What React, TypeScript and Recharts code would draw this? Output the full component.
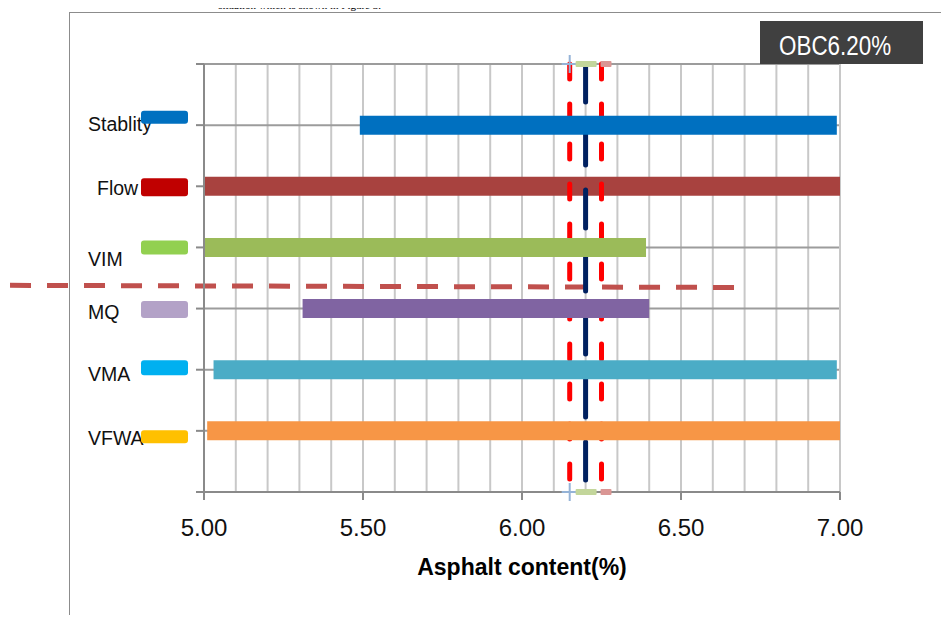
import React from 'react'
import { CartesianGrid, ComposedChart, Line, ReferenceLine, XAxis, YAxis } from 'recharts'

// Marshall properties, listed top to bottom
const properties = ['Stablity', 'Flow', 'VIM', 'MQ', 'VMA', 'VFWA']
const rowLevels = [6, 5, 4, 3, 2, 1]
// acceptable asphalt content range of each property (%)
const rangeStart = [5.49, 5.0, 5.0, 5.31, 5.03, 5.01]
const rangeEnd = [6.99, 7.0, 6.39, 6.4, 6.99, 7.0]

const barColors = ['#0070C0', '#A8423F', '#9BBB59', '#8064A2', '#4BACC6', '#F79646']
const keyColors = ['#0070C0', '#C00000', '#92D050', '#B3A2C7', '#00B0F0', '#FFC000']

const xTicks = [5, 5.5, 6, 6.5, 7]
const xGridValues = [5, 5.1, 5.2, 5.3, 5.4, 5.5, 5.6, 5.7, 5.8, 5.9, 6, 6.1, 6.2, 6.3, 6.4, 6.5, 6.6, 6.7, 6.8, 6.9, 7]
const yTicks = [0, 1, 2, 3, 4, 5, 6, 7]

// optimum binder content and its tolerance band
const obcLow = 6.15
const obc = 6.2
const obcHigh = 6.25
const cutoffLine = [
  { x: 4.39, y: 3.38 },
  { x: 6.68, y: 3.345 },
]

const FONT = '"Liberation Sans", Arial, sans-serif'

// hand nudges so the key labels sit like in the original figure
const keyNudge: Record<string, { tx: number; ty: number; sy: number; sh: number }> = {
  Stablity: { tx: 0, ty: 6, sy: -8, sh: 13 },
  Flow: { tx: 9, ty: 9, sy: 1, sh: 18 },
  VIM: { tx: 0, ty: 19, sy: 0, sh: 14 },
  MQ: { tx: 0, ty: 10, sy: 1, sh: 17 },
  VMA: { tx: 0, ty: 11, sy: -2, sh: 15 },
  VFWA: { tx: 0, ty: 14, sy: 6, sh: 13 },
}

function PropertyTick(props: any) {
  const { x, y, payload } = props
  const i = rowLevels.indexOf(payload.value)
  if (i < 0) return <g />
  const name = properties[i]
  const n = keyNudge[name]
  return (
    <g>
      <text x={x - 108 + n.tx} y={y + n.ty} fontSize={19.5} fontFamily={FONT} fill="#111">
        {name}
      </text>
      <rect x={x - 55} y={y + n.sy - n.sh / 2} width={47} height={n.sh} rx={3} fill={keyColors[i]} />
    </g>
  )
}

function CrossDot(props: any) {
  const { cx, cy, key } = props
  return (
    <path key={key} d={`M${cx - 8},${cy}H${cx + 8}M${cx},${cy - 9}V${cy + 9}`} stroke="#95B3D7" strokeWidth={2} fill="none" />
  )
}

function DashDot(props: any) {
  const { cx, cy, key } = props
  return <rect key={key} x={cx - 10} y={cy - 3} width={21} height={6} rx={1} fill="#C3D69B" />
}

function SquareDot(props: any) {
  const { cx, cy, key } = props
  return <rect key={key} x={cx - 1} y={cy - 3} width={11} height={6} rx={1} fill="#DA9694" />
}

export default function App() {
  const rows = properties.map((name, i) => ({
    name,
    color: barColors[i],
    points: [
      { x: rangeStart[i], y: rowLevels[i] },
      { x: rangeEnd[i], y: rowLevels[i] },
    ],
  }))
  const guide = (x: number) => [
    { x, y: yTicks[yTicks.length - 1] },
    { x, y: yTicks[0] },
  ]
  const bar = (r: (typeof rows)[number]) => (
    <Line
      key={r.name}
      name={r.name}
      data={r.points}
      dataKey="y"
      stroke={r.color}
      strokeWidth={19}
      strokeLinecap="butt"
      dot={false}
      activeDot={false}
      isAnimationActive={false}
    />
  )

  return (
    <div style={{ position: 'relative', margin: -8, width: 949, height: 623, overflow: 'hidden', background: '#fff' }}>
      <div
        style={{
          position: 'absolute',
          left: 69,
          top: 12,
          width: 900,
          height: 700,
          borderLeft: '1.5px solid #8c8c8c',
          borderTop: '1.5px solid #8c8c8c',
        }}
      />
      <ComposedChart width={949} height={623} margin={{ top: 64, right: 109, bottom: 0, left: 0 }}>
        <CartesianGrid horizontal={false} verticalValues={xGridValues} stroke="#C8C8C8" strokeWidth={2} />
        <CartesianGrid vertical={false} stroke="#9C9C9C" strokeWidth={2} />
        <ReferenceLine x={xGridValues[xGridValues.length - 1]} stroke="#C8C8C8" strokeWidth={2} />
        <XAxis
          type="number"
          dataKey="x"
          domain={[5, 7]}
          ticks={xTicks}
          interval={0}
          tickFormatter={(v: number) => v.toFixed(2)}
          height={131}
          tickSize={8}
          tickMargin={19}
          axisLine={{ stroke: '#8A8A8A', strokeWidth: 2 }}
          tickLine={{ stroke: '#8A8A8A', strokeWidth: 2 }}
          tick={{ fontSize: 24, fill: '#111', fontFamily: FONT }}
          label={{
            value: 'Asphalt content(%)',
            position: 'insideBottom',
            offset: 48,
            fontSize: 23,
            fontWeight: 'bold',
            fill: '#000',
            fontFamily: FONT,
          }}
        />
        <YAxis
          type="number"
          domain={[0, 7]}
          ticks={yTicks}
          interval={0}
          width={204}
          tickSize={8}
          tickMargin={0}
          axisLine={{ stroke: '#8A8A8A', strokeWidth: 2 }}
          tickLine={{ stroke: '#8A8A8A', strokeWidth: 2 }}
          tick={<PropertyTick />}
        />

        {/* Flow sits under the OBC guides, the others above */}
        {bar(rows[1])}

        <ReferenceLine segment={cutoffLine} stroke="#C0504D" strokeWidth={5} strokeDasharray="21 16" ifOverflow="visible" />

        <Line
          data={guide(obcLow)}
          dataKey="y"
          stroke="#FF0000"
          strokeWidth={5}
          strokeDasharray="15 25"
          strokeLinecap="round"
          dot={(p: any) => <CrossDot {...p} />}
          activeDot={false}
          isAnimationActive={false}
        />
        <Line
          data={guide(obcHigh)}
          dataKey="y"
          stroke="#FF0000"
          strokeWidth={5}
          strokeDasharray="15 25"
          strokeLinecap="round"
          dot={(p: any) => <SquareDot {...p} />}
          activeDot={false}
          isAnimationActive={false}
        />
        <Line
          data={guide(obc)}
          dataKey="y"
          stroke="#002060"
          strokeWidth={5}
          strokeDasharray="38 25"
          strokeLinecap="round"
          dot={(p: any) => <DashDot {...p} />}
          activeDot={false}
          isAnimationActive={false}
        />

        {rows.filter((r) => r.name !== 'Flow').map(bar)}
      </ComposedChart>
      <div
        style={{
          position: 'absolute',
          left: 0,
          top: 0,
          width: 381,
          zIndex: 2,
          textAlign: 'right',
          whiteSpace: 'nowrap',
          fontFamily: '"Liberation Serif", "Times New Roman", serif',
          fontSize: 11,
          lineHeight: '11px',
          color: '#000',
        }}
      >
        situation which is shown in Figure 3.
      </div>
      <div
        style={{
          position: 'absolute',
          left: 760,
          top: 21,
          width: 163,
          height: 43,
          background: '#404040',
          color: '#fff',
          fontFamily: FONT,
          fontSize: 27,
          lineHeight: '43px',
          paddingLeft: 19,
          paddingTop: 4,
          boxSizing: 'border-box',
          whiteSpace: 'nowrap',
        }}
      >
        <span style={{ display: 'inline-block', transform: 'scaleX(0.83)', transformOrigin: 'left center' }}>OBC6.20%</span>
      </div>
    </div>
  )
}
